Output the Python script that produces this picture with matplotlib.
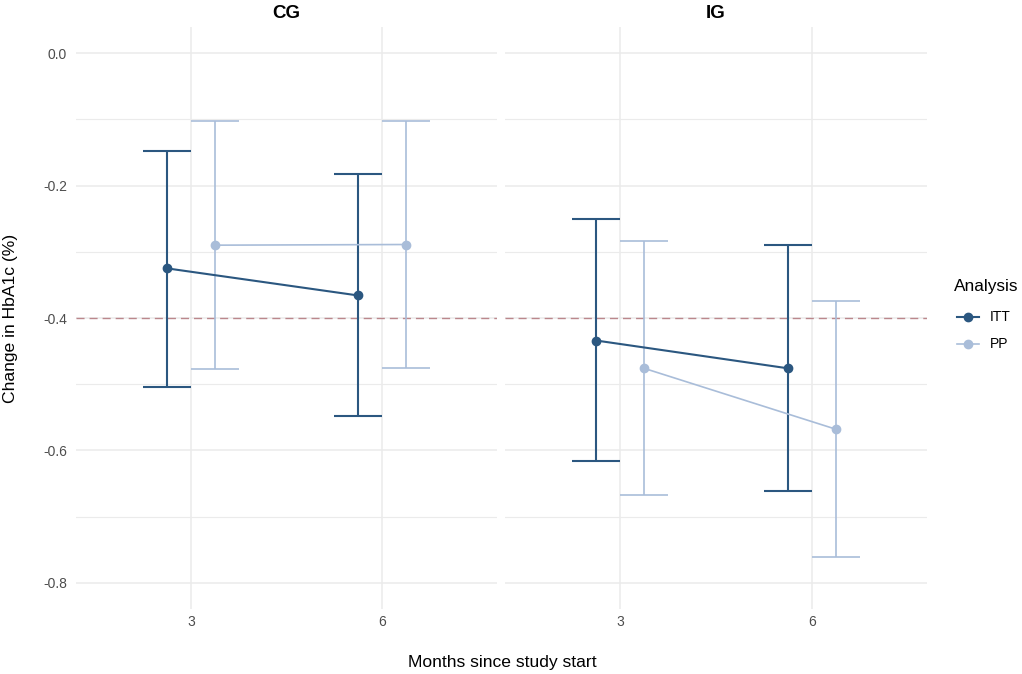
import numpy as np
import matplotlib
matplotlib.use("Agg")
import matplotlib.pyplot as plt
from matplotlib.lines import Line2D

plt.rcParams['font.family'] = ['Liberation Sans', 'DejaVu Sans']

# data
months = ["3", "6"]
panels = ["CG", "IG"]
series = ["ITT", "PP"]

cg_itt_mean = [-0.325, -0.366]
cg_itt_low = [-0.504, -0.548]
cg_itt_high = [-0.147, -0.183]
cg_pp_mean = [-0.290, -0.289]
cg_pp_low = [-0.477, -0.476]
cg_pp_high = [-0.103, -0.102]

ig_itt_mean = [-0.434, -0.476]
ig_itt_low = [-0.616, -0.662]
ig_itt_high = [-0.251, -0.289]
ig_pp_mean = [-0.476, -0.568]
ig_pp_low = [-0.668, -0.761]
ig_pp_high = [-0.283, -0.375]

threshold = -0.4
y_major = [0.0, -0.2, -0.4, -0.6, -0.8]
y_minor = [-0.1, -0.3, -0.5, -0.7]

panel_data = {
    "CG": {"ITT": (cg_itt_mean, cg_itt_low, cg_itt_high),
           "PP": (cg_pp_mean, cg_pp_low, cg_pp_high)},
    "IG": {"ITT": (ig_itt_mean, ig_itt_low, ig_itt_high),
           "PP": (ig_pp_mean, ig_pp_low, ig_pp_high)},
}

colors = {"ITT": "#2b5780", "PP": "#a9bdd9"}
widths = {"ITT": 1.5, "PP": 1.2}
dodge = {"ITT": -0.125, "PP": 0.125}
cap = 0.125
grid_col = "#ebebeb"
text_col = "#4d4d4d"

W, H = 1022, 674
fig = plt.figure(figsize=(W / 100, H / 100), dpi=100)


def px_box(l, t, r, b):
    return [l / W, 1 - b / H, (r - l) / W, (b - t) / H]


ax_cg = fig.add_axes(px_box(76, 26.7, 497, 609.3))
ax_ig = fig.add_axes(px_box(505, 26.7, 927, 609.3))

for ax, name in zip([ax_cg, ax_ig], panels):
    xpos = np.arange(1, len(months) + 1)
    ax.axhline(threshold, color="#bb878c", lw=1.0, ls=(0, (5.8, 3.6)), zorder=1.5)
    for s in series:
        mean, low, high = panel_data[name][s]
        xs = xpos + dodge[s]
        c = colors[s]
        lw = widths[s]
        ax.vlines(xs, low, high, color=c, lw=lw, zorder=3)
        ax.hlines(low, xs - cap, xs + cap, color=c, lw=lw, zorder=3)
        ax.hlines(high, xs - cap, xs + cap, color=c, lw=lw, zorder=3)
        ax.plot(xs, mean, color=c, lw=lw, marker="o", ms=6, zorder=4)

    ax.set_xlim(0.4, 2.6)
    ax.set_ylim(-0.84, 0.04)
    ax.set_xticks(xpos)
    ax.set_xticklabels(months)
    ax.set_yticks(y_major)
    ax.set_yticklabels([f"{v:.1f}" for v in y_major])
    ax.set_yticks(y_minor, minor=True)
    ax.grid(which="major", color=grid_col, lw=1.1, zorder=0)
    ax.grid(which="minor", axis="y", color=grid_col, lw=0.8, zorder=0)
    ax.set_axisbelow(True)
    for sp in ax.spines.values():
        sp.set_visible(False)
    ax.tick_params(which="both", length=0, labelsize=10, labelcolor=text_col)
    ax.tick_params(axis="y", pad=6.5)
    ax.tick_params(axis="x", pad=4)
    ax.set_title(name, fontsize=13.5, fontweight="bold", pad=6)

ax_ig.tick_params(labelleft=False)

fig.text(11 / W, 1 - 318 / H, "Change in HbA1c (%)", rotation=90,
         ha="center", va="center", fontsize=12.6)
fig.text(502 / W, 1 - 667 / H, "Months since study start",
         ha="center", va="baseline", fontsize=12.6)

# legend
fig.text(954 / W, 1 - 286 / H, "Analysis", ha="left", va="center", fontsize=12.4)
for i, s in enumerate(series):
    fy = 1 - (317 + 27 * i) / H
    fig.add_artist(Line2D([957 / W, 979 / W], [fy, fy], transform=fig.transFigure,
                          color=colors[s], lw=widths[s]))
    fig.add_artist(Line2D([968 / W], [fy], transform=fig.transFigure,
                          color=colors[s], marker="o", ms=6))
    fig.text(990 / W, fy, s, ha="left", va="center", fontsize=10)

fig.savefig("out.png", dpi=100)
